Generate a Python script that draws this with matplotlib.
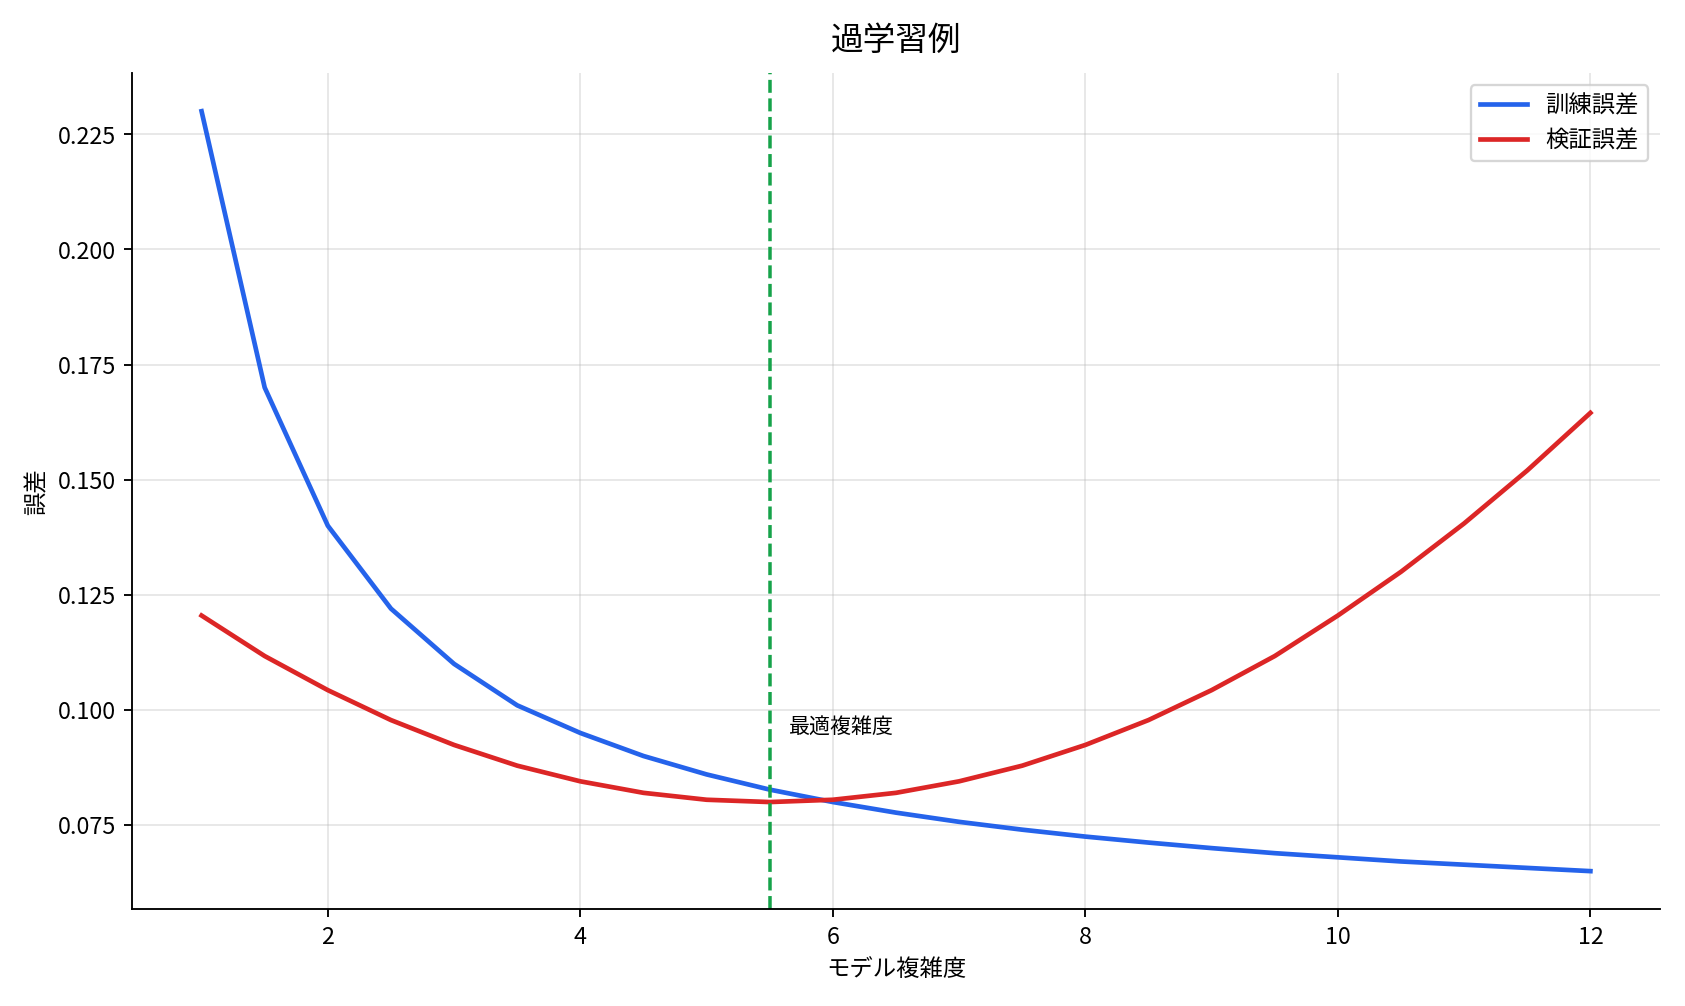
import numpy as np
import matplotlib.pyplot as plt

plt.rcParams['font.family'] = ['Noto Sans CJK JP', 'DejaVu Sans']

# 図から読み取った値
complexity = [1.0, 1.5, 2.0, 2.5, 3.0, 3.5, 4.0, 4.5, 5.0, 5.5, 6.0, 6.5,
              7.0, 7.5, 8.0, 8.5, 9.0, 9.5, 10.0, 10.5, 11.0, 11.5, 12.0]
train_err = [0.230, 0.170, 0.140, 0.122, 0.110, 0.101, 0.095, 0.090, 0.086,
             0.0827, 0.080, 0.0777, 0.0757, 0.074, 0.0725, 0.0712, 0.070,
             0.0689, 0.068, 0.0671, 0.0664, 0.0657, 0.065]
val_err = [0.1205, 0.1117, 0.1043, 0.0978, 0.0924, 0.0879, 0.0845, 0.0820,
           0.0805, 0.0800, 0.0805, 0.0820, 0.0845, 0.0879, 0.0924, 0.0978,
           0.1043, 0.1117, 0.1205, 0.1300, 0.1405, 0.1520, 0.1645]
best_x = 5.5

fig, ax = plt.subplots(figsize=(10.03, 5.99), dpi=168)
ax.plot(complexity, train_err, color='#2563eb', lw=2, label='訓練誤差')
ax.plot(complexity, val_err, color='#dc2626', lw=2, label='検証誤差')
ax.axvline(best_x, color='#16a34a', ls='--', lw=1.5)
ax.text(best_x + 0.15, 0.095, '最適複雑度', fontsize=9)

ax.set_title('過学習例', fontsize=14, pad=10)
ax.set_xlabel('モデル複雑度')
ax.set_ylabel('誤差')
ax.grid(alpha=0.3)
ax.spines['top'].set_visible(False)
ax.spines['right'].set_visible(False)
ax.legend(loc='upper right')

plt.tight_layout()
plt.savefig('out.png')
